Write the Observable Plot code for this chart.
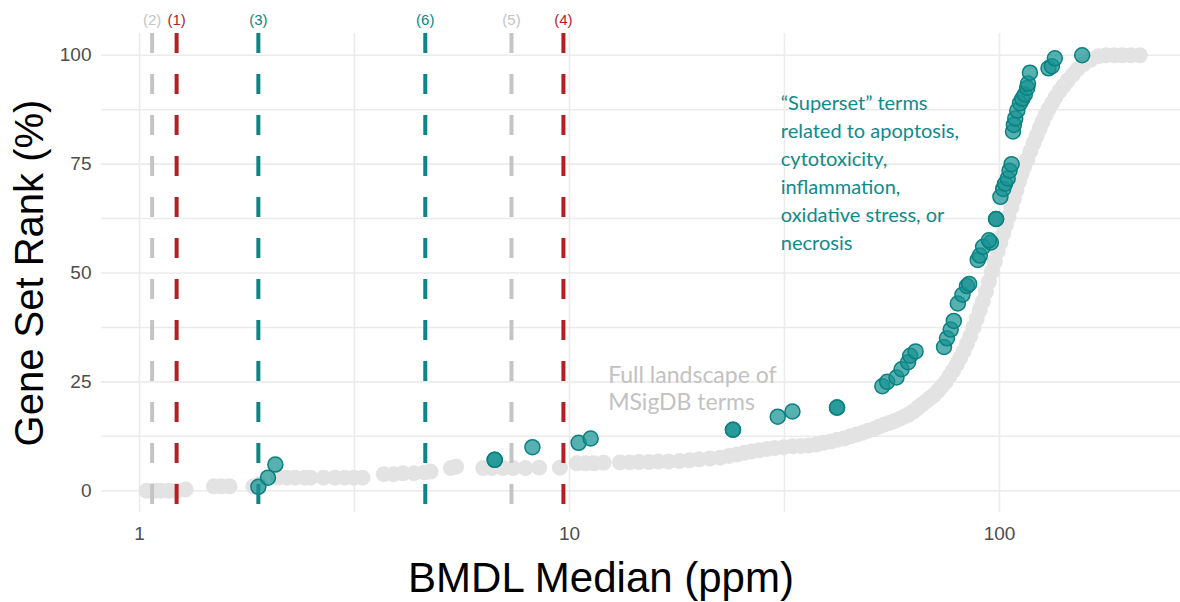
<!DOCTYPE html>
<html><head><meta charset="utf-8">
<script src="https://cdn.jsdelivr.net/npm/d3@7"></script>
<script src="https://cdn.jsdelivr.net/npm/@observablehq/plot@0.6"></script>
<style>body{margin:0;background:#fff;overflow:hidden}</style>
</head><body><div id="chart"></div>
<script>
// ---- data ----
const xTicks = [1, 10, 100];
const xMinorGrid = [3.162, 31.62];
const yTicks = [0, 25, 50, 75, 100];
const yMinorGrid = [12.5, 37.5, 62.5, 87.5];

const thresholdLabels = ["(2)", "(1)", "(3)", "(6)", "(5)", "(4)"];
const thresholdX = [1.07, 1.22, 1.89, 4.62, 7.33, 9.68];
const thresholdGroup = ["other", "selected", "superset", "superset", "other", "selected"];

const allTermsX = [1.04,1.08,1.12,1.17,1.22,1.28,1.49,1.55,1.62,1.84,1.9,2.1,2.2,2.3,2.42,2.5,2.68,2.85,3.0,3.15,3.3,3.7,3.9,4.1,4.35,4.6,4.75,5.3,5.45,6.3,6.6,7.0,7.4,7.9,8.5,9.5,10.4,10.9,11.4,12,13.1,13.8,14.5,15.3,16.1,17,18,19,20,21.2,22.4,23.5,24.5,25.5,26.5,27.6,28.8,30,31.5,33,34.5,36,37.5,39,40.5,42,43.5,45,46.5,48,49.5,51,52.5,54,55.5,57,58.5,60,61.5,63,64.5,66,67.5,69,70.5,72,73.5,75,76.5,78,79.5,81,82.5,84,85.5,87,88.5,90,91.5,93,94.5,96,97.5,99,100.5,102,103.5,105,106.5,108,109.5,111,112.5,114,116,118,120,122,124,126,128,130,132.5,135,138,141,144,148,152,157,163,170,177,185,193,202,212];
const allTermsY = [0,0,0,0,0,0.3,1,1,1,1,1.5,3,3,3,3,3,3,3,3,3,3,3.8,3.8,4,4,4.2,4.4,5.2,5.5,5.2,5.2,5.2,5.2,5.2,5.3,5.3,6.3,6.3,6.3,6.4,6.5,6.5,6.6,6.6,6.7,6.7,6.8,7,7.2,7.4,7.6,8,8.3,8.7,9,9.3,9.6,9.8,10,10.2,10.3,10.4,10.6,11,11.3,11.7,12,12.5,12.9,13.3,13.8,14.2,14.7,15.2,15.6,16,16.5,17,17.5,18.2,19,19.8,20.5,21.3,22,23,24,25,26.3,27.6,29,30.5,32,33.7,35.5,37.5,39.5,41.5,43.5,45.7,48,50.3,52.6,55,57,59,61,63,65,67,69,71,72.7,74.3,76,78,79.8,81.5,83.2,84.8,86.3,87.6,89,90.4,91.8,93,94.2,95.5,96.8,98,99,99.8,100,100,100,100,100];

const supersetX = [1.89,1.99,2.07,6.7,6.7,8.2,10.5,11.2,24,24,30.5,33,41.9,41.9,53.4,54.8,57.6,59.2,61.3,62,63.8,74.3,75.5,77,78.3,80,82,84,85,89,90,91.6,95.5,94.5,98.2,98.2,100.5,102,103,104.5,105.5,106.7,107.5,108,108.8,110,111.6,113,114.5,116,116.5,117.7,130,132.4,134.5,155.7];
const supersetY = [0.9,3,6,7.1,7.1,10,11,12,14,14,17,18.2,19.1,19.1,24,25,26,27.9,29.5,31,32,33,35,37,39,43,45,47,47.5,53,54,56,57,57.5,62.4,62.4,67.5,69.3,70.5,71.7,73.5,75,82.5,84,85.5,87.3,89,90,91,92.5,93.5,96,97,97.5,99.3,100];

const annotationAll = "Full landscape of\nMSigDB terms";
const annotationSuperset = "\u201CSuperset\u201D terms\nrelated to apoptosis,\ncytotoxicity,\ninflammation,\noxidative stress, or\nnecrosis";
const xTitle = "BMDL Median (ppm)";
const yTitle = "Gene Set Rank (%)";

// ---- build ----
const groupColor = {other: "#c4c4c4", selected: "#b21f24", superset: "#0b8585"};
const all = allTermsX.map((x, i) => ({x, y: allTermsY[i]}));
const sup = supersetX.map((x, i) => ({x, y: supersetY[i]}));
const thr = thresholdX.map((x, i) => ({x, label: thresholdLabels[i], color: groupColor[thresholdGroup[i]]}));

const chart = Plot.plot({
  width: 1180, height: 602,
  marginTop: 33, marginBottom: 90, marginLeft: 101, marginRight: 0,
  x: {type: "log", domain: [0.816, 263.6]},
  y: {domain: [-5, 105]},
  color: {type: "identity"},
  style: {fontFamily: "'Liberation Sans', Arial, sans-serif", background: "#fff"},
  marks: [
    Plot.gridX(xTicks.concat(xMinorGrid), {stroke: "#ebebeb", strokeOpacity: 1, strokeWidth: 1.6}),
    Plot.gridY(yTicks.concat(yMinorGrid), {stroke: "#ebebeb", strokeOpacity: 1, strokeWidth: 1.6}),
    Plot.axisX(xTicks, {tickSize: 0, tickPadding: 14, fontSize: 19, fill: "#4d4d4d", label: null, tickFormat: d => String(d)}),
    Plot.axisY(yTicks, {tickSize: 0, tickPadding: 10, fontSize: 19, fill: "#4d4d4d", label: null}),
    Plot.dot(all, {x: "x", y: "y", r: 8, fill: "#e3e3e3", stroke: "none"}),
    Plot.ruleX(thr, {x: "x", stroke: "color", strokeWidth: 4, strokeDasharray: "20,21"}),
    Plot.dot(sup, {x: "x", y: "y", r: 7.5, fill: "#179393", fillOpacity: 0.72, stroke: "#0a8080", strokeWidth: 1.5}),
    Plot.text(thr, {x: "x", text: "label", frameAnchor: "top", lineAnchor: "middle", dy: -13, fill: "color", fontSize: 15}),
    Plot.text([annotationAll], {x: 12.3, y: 23.6, text: d => d, textAnchor: "start", lineAnchor: "middle", lineHeight: 1.17, fontSize: 23, fill: "#c2c2c2", fontFamily: "Lato, sans-serif"}),
    Plot.text([annotationSuperset], {x: 31, y: 73.5, text: d => d, textAnchor: "start", lineAnchor: "middle", lineHeight: 1.4, fontSize: 20, fill: "#118a8a", fontFamily: "Lato, sans-serif"}),
    Plot.text([xTitle], {frameAnchor: "bottom", lineAnchor: "middle", textAnchor: "middle", dx: -40, dy: 66, text: d => d, fontSize: 42, fill: "#000"}),
    Plot.text([yTitle], {frameAnchor: "left", textAnchor: "middle", lineAnchor: "middle", dx: -71, rotate: -90, text: d => d, fontSize: 40, fill: "#000"})
  ]
});
document.getElementById("chart").append(chart);
</script>
</body></html>
